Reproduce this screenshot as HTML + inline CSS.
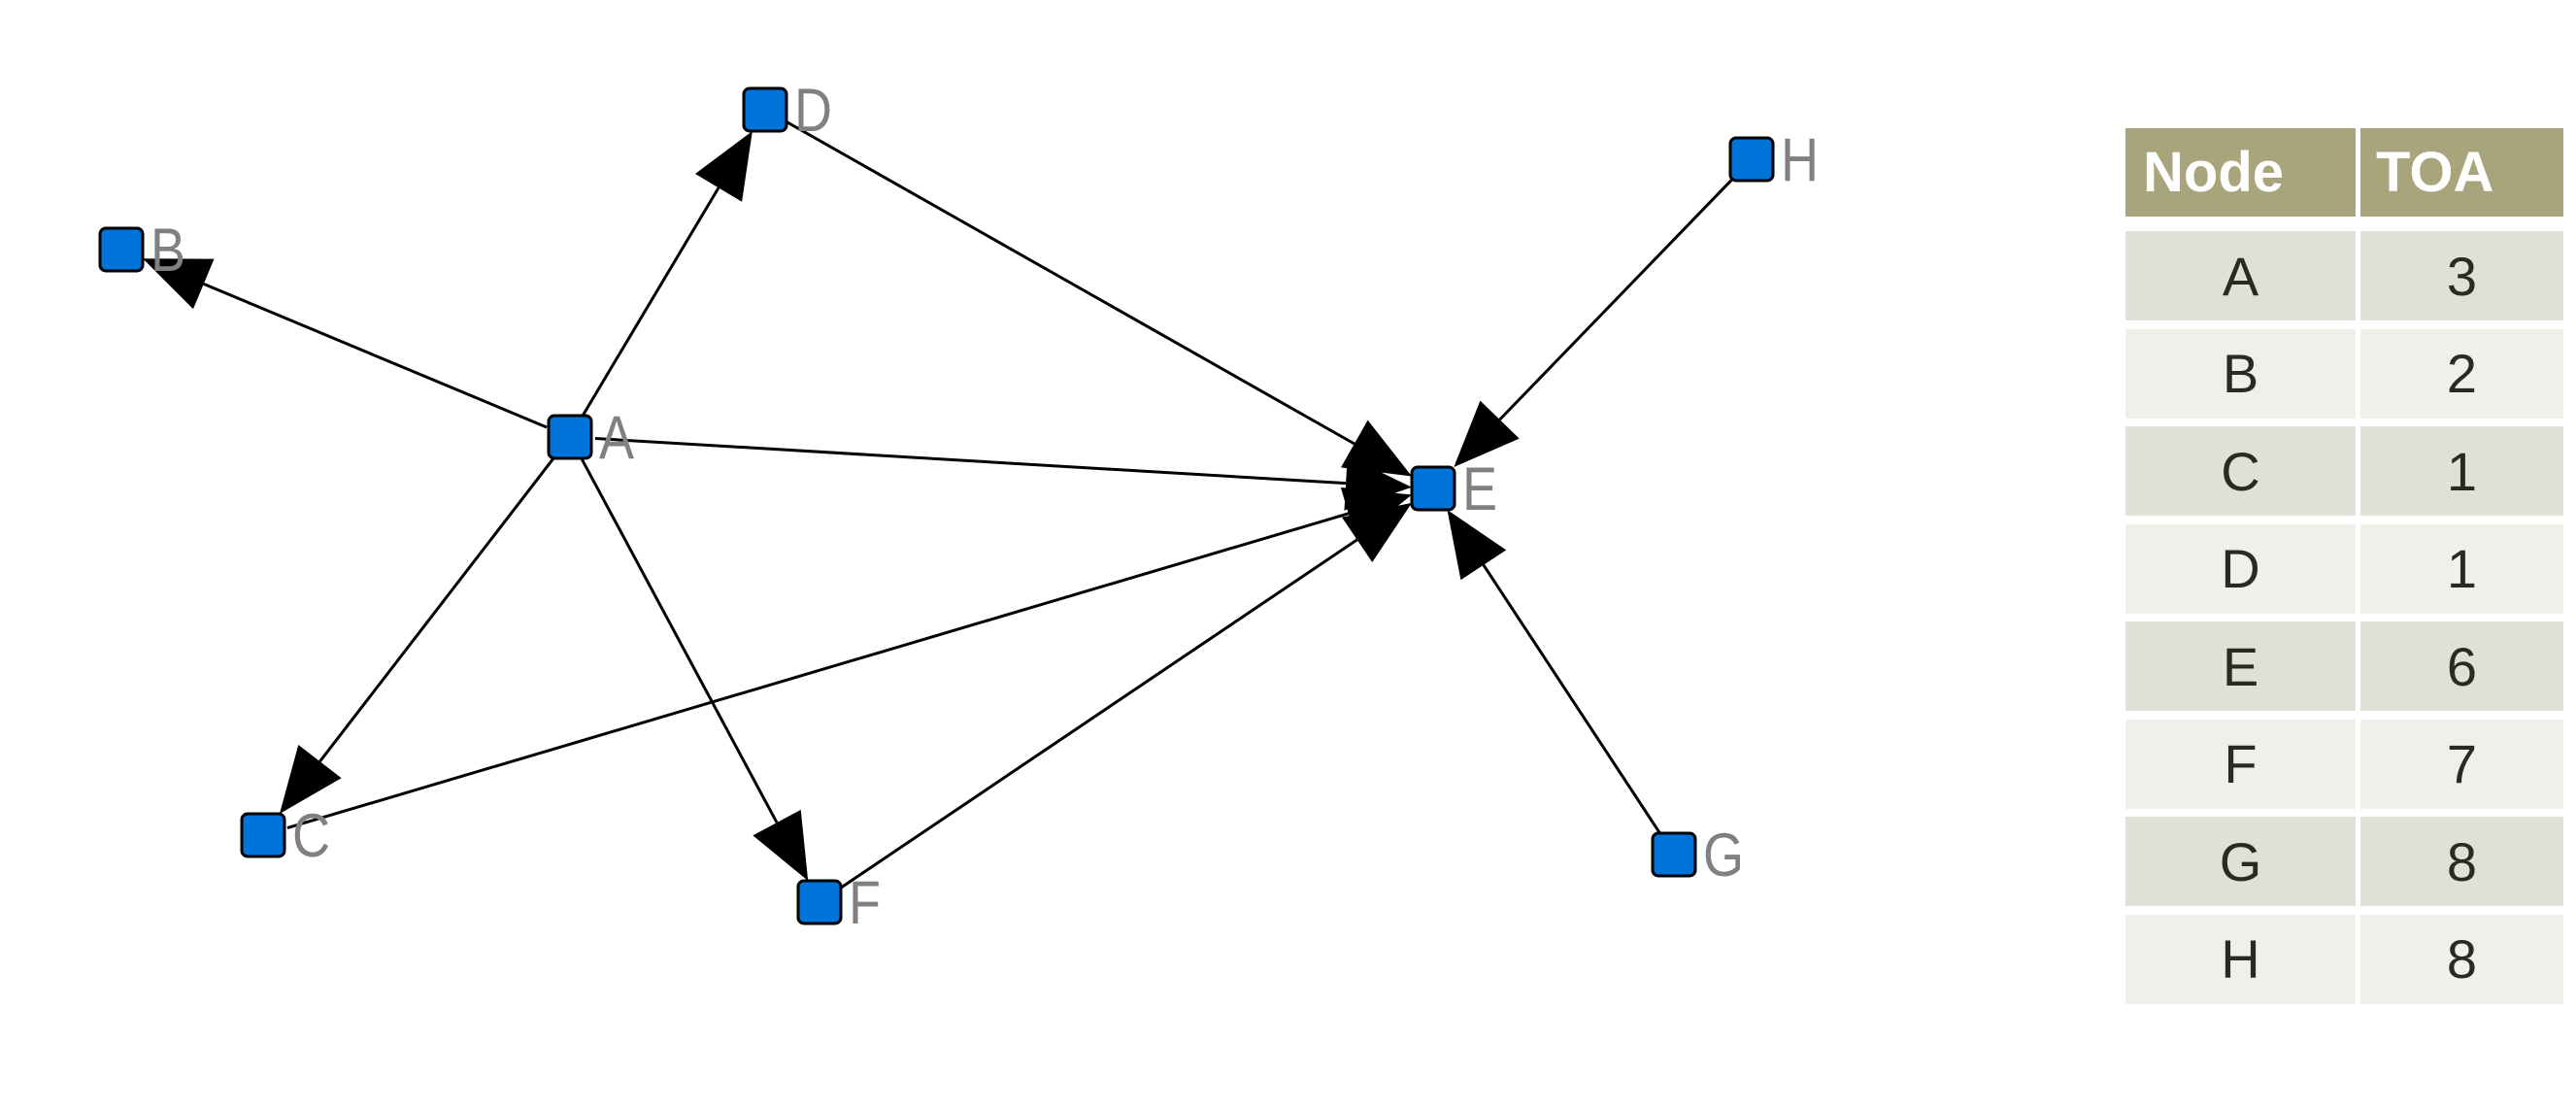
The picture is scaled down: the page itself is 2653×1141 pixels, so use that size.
<!DOCTYPE html>
<html><head><meta charset="utf-8"><style>
html,body{margin:0;padding:0;background:#fff;width:2653px;height:1141px;overflow:hidden;font-family:"Liberation Sans",sans-serif}
svg{position:absolute;left:0;top:0}
.cell{position:absolute;display:flex;align-items:center;justify-content:center;font-size:56px;color:#2a2a22}
</style></head><body>
<svg id="g" width="2653" height="1141" xmlns="http://www.w3.org/2000/svg"></svg>
<div id="t"></div>
<script>
var N={A:[587,450],B:[125,257],C:[271,860],D:[788,113],E:[1476,503],F:[844,929],G:[1724,880],H:[1804,164]};
var E=[["A","B"],["A","D"],["A","C"],["A","F"],["A","E"],["D","E"],["C","E"],["F","E"],["H","E"],["G","E"]];
var s="";
E.forEach(function(e){var a=N[e[0]],b=N[e[1]];var dx=b[0]-a[0],dy=b[1]-a[1],L=Math.hypot(dx,dy),ux=dx/L,uy=dy/L;
var t=22/Math.max(Math.abs(ux),Math.abs(uy));var tx=b[0]-ux*t,ty=b[1]-uy*t;var hl=68,hw=28;
var bx=tx-ux*hl,by=ty-uy*hl;var px=-uy,py=ux;
var sx=a[0]+ux*26,sy=a[1]+uy*26;
s+='<line x1="'+sx+'" y1="'+sy+'" x2="'+bx+'" y2="'+by+'" stroke="#000" stroke-width="3"/>';
s+='<polygon points="'+tx+','+ty+' '+(bx+px*hw)+','+(by+py*hw)+' '+(bx-px*hw)+','+(by-py*hw)+'" fill="#000"/>';});
for(var k in N){var p=N[k];s+='<rect x="'+(p[0]-22)+'" y="'+(p[1]-22)+'" width="44" height="44" rx="6" fill="#0074d9" stroke="#000" stroke-width="3"/>';
s+='<text x="'+(p[0]+30)+'" y="'+(p[1]+22)+'" font-size="60" fill="#808080" font-family="Liberation Sans, sans-serif" transform="translate('+(p[0]+30)+','+(p[1]+22)+') scale(0.9,1.05) translate('+(-(p[0]+30))+','+(-(p[1]+22))+')">'+k+'</text>';}
document.getElementById("g").innerHTML=s;
var rows=[["A",3],["B",2],["C",1],["D",1],["E",6],["F",7],["G",8],["H",8]];
var h='<div class="cell" style="left:2189px;top:132px;width:237px;height:91px;background:#a8a47c;color:#fff;font-weight:bold;font-size:58px;justify-content:flex-start;padding-left:18px;box-sizing:border-box">Node</div>';
h+='<div class="cell" style="left:2431px;top:132px;width:209px;height:91px;background:#a8a47c;color:#fff;font-weight:bold;font-size:58px;justify-content:flex-start;padding-left:16px;box-sizing:border-box">TOA</div>';
rows.forEach(function(r,i){var y=238+i*100.5,bg=i%2?"#f0f0eb":"#e0e0d7";
h+='<div class="cell" style="left:2189px;top:'+y+'px;width:237px;height:92px;background:'+bg+'">'+r[0]+'</div>';
h+='<div class="cell" style="left:2431px;top:'+y+'px;width:209px;height:92px;background:'+bg+'">'+r[1]+'</div>';});
document.getElementById("t").innerHTML=h;
</script>
</body></html>
